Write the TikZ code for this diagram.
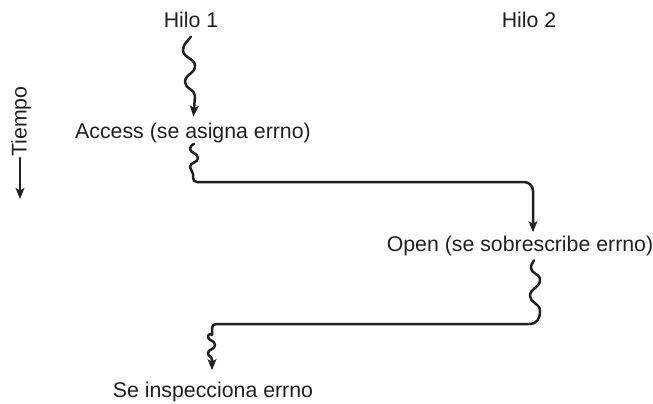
\documentclass[tikz,border=0pt]{standalone}
\usepackage{fontspec}
\setmainfont{Liberation Sans}
\usepackage{tikz}
\usetikzlibrary{arrows.meta}
\definecolor{ink}{RGB}{35,31,32}

\begin{document}
\begin{tikzpicture}[x=0.5pt,y=-0.5pt,
  lbl/.style={inner sep=0pt,anchor=base,text=ink,font=\fontsize{10.65}{12}\selectfont},
  flow/.style={draw=ink,line width=1.25pt,line cap=round,line join=round,
    -{Stealth[length=5.5pt,width=4.4pt,inset=1.3pt]}}]
\useasboundingbox (0,0) rectangle (653,403);
\node[lbl] (h1) at (191,27) {Hilo 1};
\node[lbl] (h2) at (529,27) {Hilo 2};
\node[lbl] (access) at (193,138) {Access (se asigna errno)};
\node[lbl] (open) at (520,251) {Open (se sobrescribe errno)};
\node[lbl] (inspect) at (213,397) {Se inspecciona errno};
\node[lbl,anchor=west,rotate=90] (tiempo) at (21,157) {Tiempo};
\coordinate (turn1) at (533,182);
\coordinate (turn2) at (212,324);

\draw[flow] (tiempo.west) ++(-1,1) -- ++(0,41);

\draw[flow,shorten >=2.75pt] (h1.south) ++(0,9)
  .. controls (188,41) and (183,44) .. (183,50)
  .. controls (183,58) and (195,58) .. (195,66)
  .. controls (195,74) and (185,74) .. (185,82)
  .. controls (185,89) and (195,89) .. (195,96)
  -- (access.north);

\draw[flow,shorten >=1.5pt] (access.south) ++(1,1)
  .. controls (192,145) and (190,146) .. (190,149)
  .. controls (190,153) and (198,153) .. (198,158)
  .. controls (198,163) and (190,162) .. (190,167)
  .. controls (190,170) and (193,171) .. (193,174)
  [rounded corners=2pt] -- (193,182) [rounded corners=4.5pt] -- (turn1)
  -- (turn1 |- open.north);

\draw[flow,shorten >=5.5pt] (turn1 |- open.south) ++(1,4.5)
  .. controls (533,263) and (531,264) .. (531,268)
  .. controls (531,274) and (540,273) .. (540,280)
  .. controls (540,288) and (530,288) .. (530,296)
  .. controls (530,303) and (540,303) .. (540,311)
  .. controls (540,319) and (537,324) .. (529,324)
  [rounded corners=2pt] -- (turn2) -- (212,331) [sharp corners]
  .. controls (212,334) and (208,333) .. (208,337)
  .. controls (208,341) and (215,340) .. (215,345)
  .. controls (215,350) and (208,349) .. (208,353)
  .. controls (208,357) and (212,356) .. (212,360)
  -- (turn2 |- inspect.north);
\end{tikzpicture}
\end{document}
